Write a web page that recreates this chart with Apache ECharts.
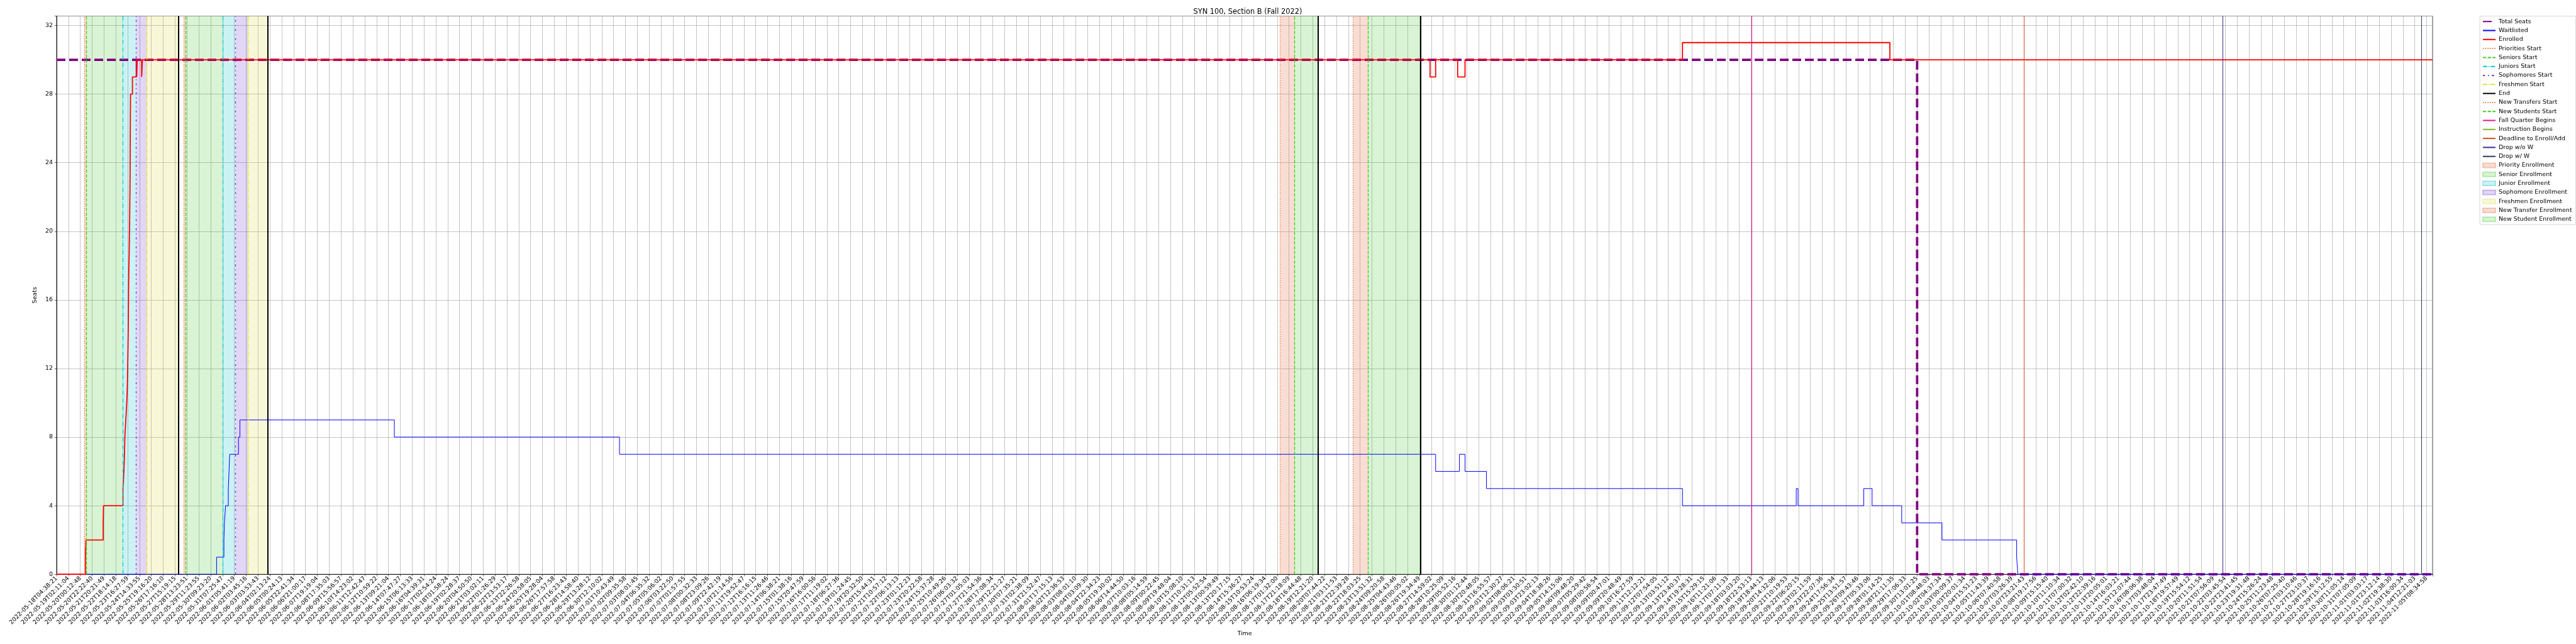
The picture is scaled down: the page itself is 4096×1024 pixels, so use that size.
<!DOCTYPE html>
<html><head><meta charset="utf-8">
<script src="https://cdn.jsdelivr.net/npm/echarts@6/dist/echarts.min.js"></script>
<style>html,body{margin:0;padding:0;background:#fff}#c{width:4096px;height:1024px}</style>
</head><body><div id="c"></div>
<script>
// ---------- tick labels (one per tick position, x in tick units) ----------
const tickLabels = [
"2022-05-18T04:38:21","2022-05-19T02:11:04","2022-05-20T00:12:48","2022-05-20T22:22:40","2022-05-21T20:21:49",
"2022-05-22T18:14:18","2022-05-23T16:27:59","2022-05-24T14:33:55","2022-05-25T19:16:20","2022-05-26T17:16:10",
"2022-05-27T15:19:15","2022-05-28T13:23:51","2022-05-29T11:23:55","2022-05-30T09:23:20","2022-05-31T07:25:47",
"2022-06-01T05:41:19","2022-06-02T03:45:16","2022-06-03T03:53:43","2022-06-04T02:13:24","2022-06-05T00:24:13",
"2022-06-05T22:41:34","2022-06-06T21:00:17","2022-06-07T19:19:04","2022-06-08T17:35:03","2022-06-09T15:56:57",
"2022-06-10T14:23:02","2022-06-11T12:42:47","2022-06-12T10:59:22","2022-06-13T09:21:04","2022-06-14T07:47:27",
"2022-06-15T06:13:33","2022-06-16T04:39:31","2022-06-17T02:54:24","2022-06-18T01:58:24","2022-06-19T02:28:37",
"2022-06-20T04:50:50","2022-06-21T03:02:11","2022-06-22T01:26:29","2022-06-22T23:53:17","2022-06-23T22:26:58",
"2022-06-24T20:58:05","2022-06-25T19:28:04","2022-06-26T17:57:58","2022-06-27T16:23:43","2022-06-28T14:58:40",
"2022-06-29T13:28:12","2022-06-30T12:10:02","2022-07-01T10:43:49","2022-07-02T09:35:58","2022-07-03T08:01:45",
"2022-07-04T06:35:32","2022-07-05T05:06:02","2022-07-06T03:22:50","2022-07-07T01:57:55","2022-07-08T00:32:33",
"2022-07-08T23:09:26","2022-07-09T22:42:19","2022-07-10T21:14:56","2022-07-11T19:52:47","2022-07-12T16:16:15",
"2022-07-13T11:26:46","2022-07-14T06:38:21","2022-07-15T01:38:16","2022-07-15T20:47:59","2022-07-16T16:00:56",
"2022-07-17T11:19:02","2022-07-18T06:27:36","2022-07-19T01:24:45","2022-07-19T20:32:50","2022-07-20T15:44:31",
"2022-07-21T10:57:12","2022-07-22T06:13:13","2022-07-23T01:12:23","2022-07-23T20:22:58","2022-07-24T15:37:28",
"2022-07-25T10:49:26","2022-07-26T06:03:32","2022-07-27T01:05:03","2022-07-27T21:54:36","2022-07-28T17:08:34",
"2022-07-29T12:21:27","2022-07-30T07:35:21","2022-07-31T02:38:09","2022-07-31T21:52:47","2022-08-01T17:15:13",
"2022-08-02T12:36:53","2022-08-03T08:01:10","2022-08-04T03:09:30","2022-08-04T22:34:23","2022-08-05T19:30:02",
"2022-08-06T14:44:50","2022-08-07T10:03:16","2022-08-08T05:14:59","2022-08-09T00:22:45","2022-08-09T19:48:04",
"2022-08-10T15:08:10","2022-08-11T10:31:13","2022-08-12T05:52:54","2022-08-13T00:59:49","2022-08-13T20:17:15",
"2022-08-14T15:36:27","2022-08-15T10:53:24","2022-08-16T06:19:34","2022-08-17T01:32:00","2022-08-17T21:18:09",
"2022-08-18T16:44:48","2022-08-19T12:21:20","2022-08-20T07:44:22","2022-08-21T03:11:53","2022-08-21T22:39:28",
"2022-08-22T18:03:25","2022-08-23T13:51:32","2022-08-24T09:20:58","2022-08-25T04:43:46","2022-08-26T00:05:02",
"2022-08-26T19:34:49","2022-08-27T14:59:02","2022-08-28T10:25:09","2022-08-29T05:52:16","2022-08-30T01:12:44",
"2022-08-30T20:48:05","2022-08-31T16:55:57","2022-09-01T12:30:27","2022-09-02T08:06:21","2022-09-03T03:30:51",
"2022-09-03T23:02:13","2022-09-04T18:38:26","2022-09-05T14:15:06","2022-09-06T09:48:20","2022-09-07T05:29:42",
"2022-09-08T00:56:54","2022-09-09T00:47:01","2022-09-09T20:48:49","2022-09-10T16:27:59","2022-09-11T12:12:21",
"2022-09-12T07:54:05","2022-09-13T03:51:12","2022-09-13T23:40:37","2022-09-14T19:28:31","2022-09-15T15:29:15",
"2022-09-16T11:21:06","2022-09-17T07:11:33","2022-09-18T03:03:20","2022-09-18T22:53:13","2022-09-19T18:44:13",
"2022-09-20T14:32:06","2022-09-21T10:19:53","2022-09-22T06:20:15","2022-09-23T02:11:59","2022-09-23T22:07:36",
"2022-09-24T17:56:34","2022-09-25T13:51:57","2022-09-26T09:43:46","2022-09-27T05:33:06","2022-09-28T01:14:25",
"2022-09-28T21:11:35","2022-09-29T17:06:33","2022-09-30T13:01:25","2022-10-01T08:48:03","2022-10-02T04:37:34",
"2022-10-03T00:09:37","2022-10-03T20:01:34","2022-10-04T15:51:23","2022-10-05T11:43:39","2022-10-06T07:40:58",
"2022-10-07T03:26:39","2022-10-07T23:21:43","2022-10-08T19:17:56","2022-10-09T15:15:40","2022-10-10T11:10:34",
"2022-10-11T07:00:32","2022-10-12T02:42:10","2022-10-12T22:39:16","2022-10-13T20:05:01","2022-10-14T16:03:21",
"2022-10-15T12:07:44","2022-10-16T08:06:38","2022-10-17T03:48:04","2022-10-17T23:47:49","2022-10-18T19:57:49",
"2022-10-19T15:54:12","2022-10-20T11:51:54","2022-10-21T07:56:09","2022-10-22T03:45:54","2022-10-22T23:41:45",
"2022-10-23T19:31:48","2022-10-24T15:26:24","2022-10-25T11:23:48","2022-10-26T07:25:40","2022-10-27T03:10:46",
"2022-10-27T23:10:37","2022-10-28T19:16:16","2022-10-29T15:12:55","2022-10-30T11:05:14","2022-10-31T07:05:09",
"2022-11-01T03:03:17","2022-11-01T23:12:14","2022-11-02T19:38:30","2022-11-03T16:00:34","2022-11-04T12:21:03",
"2022-11-05T08:34:58"
];
const xEnd = 200.5;          // right end of the time range (tick units)
const yTicks = [0, 4, 8, 12, 16, 20, 24, 28, 32];
const yTop = 32.55;

// ---------- series (x in tick units, value held until next x) ----------
const totalSeatsX = [0, 157.0, 200.5];
const totalSeatsY = [30, 0, 0];

const waitlistX = [0, 13.50, 14.12, 14.16, 14.26, 14.49, 14.55, 14.61, 15.35, 15.47, 28.5, 47.5, 116.37, 118.38, 118.85, 120.66, 137.2, 146.8, 146.95, 152.5, 153.2, 155.7, 159.1, 165.4, 165.5, 200.5];
const waitlistY = [0, 1, 2, 3, 4, 5, 6, 7, 8, 9, 8, 7, 6, 7, 6, 5, 4, 5, 4, 5, 4, 3, 2, 1, 0, 0];

const enrolledX = [0, 2.43, 2.48, 3.93, 3.96, 5.60, 5.68, 5.73, 5.76, 5.84, 5.92, 5.97, 6.00, 6.04, 6.08, 6.13, 6.17, 6.20, 6.22, 6.24, 6.40, 6.72, 6.76, 6.80, 7.18, 7.24, 115.9, 116.37, 118.23, 118.85, 137.2, 154.7, 200.5];
const enrolledY = [0, 1, 2, 3, 4, 5, 6, 7, 8, 9, 10, 11, 12, 14, 17, 19, 21, 23, 26, 28, 29, 30, 29, 30, 29, 30, 29, 30, 29, 30, 31, 30, 30];

// ---------- event times (tick units) ----------
const prioritiesStart = [2.34, 10.73];
const seniorsStart = [2.51, 10.91];
const juniorsStart = [5.59, 14.02];
const sophomoresStart = [6.71, 15.11];
const freshmenStart = [7.62, 16.17];
const endTimes = [10.30, 17.80, 106.47, 115.12];
const newTransfersStart = [103.25, 109.40];
const newStudentsStart = [104.48, 110.68];
const fallQuarterBegins = [143.05];
const instructionBegins = [143.05];
const deadlineEnrollAdd = [166.03];
const dropWithoutW = [182.81];
const dropWithW = [199.58];

// enrollment windows [start, end]
const priorityEnrollment = [[2.34, 2.51], [10.73, 10.91]];
const seniorEnrollment = [[2.51, 5.59], [10.91, 14.02]];
const juniorEnrollment = [[5.59, 6.71], [14.02, 15.11]];
const sophomoreEnrollment = [[6.71, 7.62], [15.11, 16.17]];
const freshmenEnrollment = [[7.62, 10.30], [16.17, 17.80]];
const newTransferEnrollment = [[103.25, 104.48], [109.40, 110.68]];
const newStudentEnrollment = [[104.48, 106.47], [110.68, 115.12]];

// ---------- build ----------
const FONT = 'DejaVu Sans';
const zip = (xs, ys) => xs.map((x, i) => [x, ys[i]]);

function stepSeries(name, xs, ys, color, width, type, z) {
  return { name, type: 'line', step: 'end', symbol: 'none', showSymbol: false, z,
    data: zip(xs, ys), color,
    lineStyle: { color, width, type }, emphasis: { disabled: true } };
}
function vlineSeries(name, times, color, width, type, z) {
  const zz = z || 6;
  return { name, type: 'line', data: [], symbol: 'none', z: zz, color,
    lineStyle: { color, width, type },
    markLine: { silent: true, z: zz, symbol: ['none', 'none'], animation: false,
      label: { show: false }, emphasis: { disabled: true },
      lineStyle: { color, width, type },
      data: times.map(t => ({ xAxis: t })) } };
}
function spanSeries(name, spans, fill, edge) {
  return { name, type: 'line', data: [], symbol: 'none', z: 1, color: fill,
    itemStyle: { color: fill, borderColor: edge, borderWidth: 0.8 }, lineStyle: { width: 0, color: fill },
    markArea: { silent: true, z: 1, animation: false, itemStyle: { color: fill, borderWidth: 0 },
      emphasis: { disabled: true },
      data: spans.map(s => [{ xAxis: s[0] }, { xAxis: s[1] }]) } };
}

const C = {
  prio: '#f06a2a', sen: '#3fcf1f', jun: '#00c8d2', soph: '#6a20d8', fresh: '#e0e030',
  fall: '#e8109a', instr: '#88b428', dead: '#d84a1c', dwo: '#3a2c90', dw: '#2e3a5c'
};
const F = {
  prio: 'rgba(230,120,80,0.25)', sen: 'rgba(60,200,40,0.2)', jun: 'rgba(0,190,200,0.2)',
  soph: 'rgba(110,50,210,0.2)', fresh: 'rgba(220,220,60,0.2)'
};
const E = {
  prio: 'rgba(230,120,80,0.35)', sen: 'rgba(60,200,40,0.3)', jun: 'rgba(0,190,200,0.3)',
  soph: 'rgba(110,50,210,0.3)', fresh: 'rgba(220,220,60,0.3)'
};
const DOT = [1.4, 2.3], DASH = [5.3, 2.3], DASHDOT = [7, 2, 1.4, 2], SOPH = [3, 5, 1.4, 5];

const series = [
  stepSeries('Total Seats', totalSeatsX, totalSeatsY, '#800080', 3.8, [14, 6], 2),
  stepSeries('Waitlisted', waitlistX, waitlistY, '#0000ff', 1.0, 'solid', 3),
  stepSeries('Enrolled', enrolledX, enrolledY, '#ff0000', 1.8, 'solid', 4),
  vlineSeries('Priorities Start', prioritiesStart, C.prio, 1.3, DOT),
  vlineSeries('Seniors Start', seniorsStart, C.sen, 1.3, DASH),
  vlineSeries('Juniors Start', juniorsStart, C.jun, 1.3, DASHDOT),
  vlineSeries('Sophomores Start', sophomoresStart, C.soph, 1.3, SOPH),
  vlineSeries('Freshmen Start', freshmenStart, C.fresh, 1.3, DASHDOT),
  vlineSeries('End', endTimes, '#000000', 2.0, 'solid'),
  vlineSeries('New Transfers Start', newTransfersStart, C.prio, 1.3, DOT),
  vlineSeries('New Students Start', newStudentsStart, C.sen, 1.3, DASH),
  vlineSeries('Fall Quarter Begins', fallQuarterBegins, C.fall, 1.0, 'solid', 8),
  vlineSeries('Instruction Begins', instructionBegins, C.instr, 1.0, 'solid', 5),
  vlineSeries('Deadline to Enroll/Add', deadlineEnrollAdd, C.dead, 1.0, 'solid'),
  vlineSeries('Drop w/o W', dropWithoutW, C.dwo, 1.0, 'solid'),
  vlineSeries('Drop w/ W', dropWithW, C.dw, 1.0, 'solid'),
  spanSeries('Priority Enrollment', priorityEnrollment, F.prio, E.prio),
  spanSeries('Senior Enrollment', seniorEnrollment, F.sen, E.sen),
  spanSeries('Junior Enrollment', juniorEnrollment, F.jun, E.jun),
  spanSeries('Sophomore Enrollment', sophomoreEnrollment, F.soph, E.soph),
  spanSeries('Freshmen Enrollment', freshmenEnrollment, F.fresh, E.fresh),
  spanSeries('New Transfer Enrollment', newTransferEnrollment, F.prio, E.prio),
  spanSeries('New Student Enrollment', newStudentEnrollment, F.sen, E.sen)
];

const spanNames = ['Priority Enrollment','Senior Enrollment','Junior Enrollment','Sophomore Enrollment','Freshmen Enrollment','New Transfer Enrollment','New Student Enrollment'];
const legendData = series.map(s => spanNames.includes(s.name)
  ? { name: s.name, icon: 'rect' }
  : { name: s.name, itemStyle: { opacity: 0, borderWidth: 0 } });

const chart = echarts.init(document.getElementById('c'), null, { renderer: 'canvas' });
chart.setOption({
  animation: false,
  backgroundColor: '#ffffff',
  textStyle: { fontFamily: FONT },
  title: { text: 'SYN 100, Section B (Fall 2022)', left: 1979, top: 9, textAlign: 'center',
    textStyle: { fontFamily: FONT, fontSize: 11.4, fontWeight: 'normal', color: '#000' } },
  grid: { left: 90, right: 228, top: 25.5, bottom: 110.8, show: true, borderColor: '#000', borderWidth: 0.8, containLabel: false },
  legend: {
    orient: 'vertical', left: 3943, top: 25.7, data: legendData,
    itemWidth: 20, itemHeight: 7, itemGap: 3.3, padding: [3, 6, 3, 4],
    backgroundColor: '#fff', borderColor: '#cccccc', borderWidth: 0.8, borderRadius: 2,
    textStyle: { fontFamily: FONT, fontSize: 9.5, color: '#000', lineHeight: 11 },
    selectedMode: false
  },
  xAxis: {
    type: 'value', min: 0, max: xEnd, interval: 1,
    name: 'Time', nameLocation: 'middle', nameGap: 87,
    nameTextStyle: { fontFamily: FONT, fontSize: 9.5, color: '#000' },
    axisLine: { show: true, onZero: false, lineStyle: { color: '#000', width: 0.8 } },
    axisTick: { show: true, length: 3.3, lineStyle: { color: '#000', width: 0.6 } },
    axisLabel: { rotate: 45, margin: 5, fontFamily: FONT, fontSize: 9.5, color: '#000',
      showMinLabel: true, showMaxLabel: true,
      formatter: v => (Number.isInteger(v) && tickLabels[v] !== undefined) ? tickLabels[v] : '' },
    splitLine: { show: true, lineStyle: { color: '#b0b0b0', width: 0.75 } }
  },
  yAxis: {
    type: 'value', min: 0, max: yTop, interval: 4,
    name: 'Seats', nameLocation: 'middle', nameGap: 24,
    nameTextStyle: { fontFamily: FONT, fontSize: 9.5, color: '#000' },
    axisLine: { show: true, lineStyle: { color: '#000', width: 0.8 } },
    axisTick: { show: true, length: 3.3, lineStyle: { color: '#000', width: 0.6 } },
    axisLabel: { margin: 6, fontFamily: FONT, fontSize: 9.5, color: '#000',
      formatter: v => yTicks.includes(v) ? String(v) : '' },
    splitLine: { show: true, lineStyle: { color: '#b0b0b0', width: 0.75 } }
  },
  series
});
</script></body></html>
